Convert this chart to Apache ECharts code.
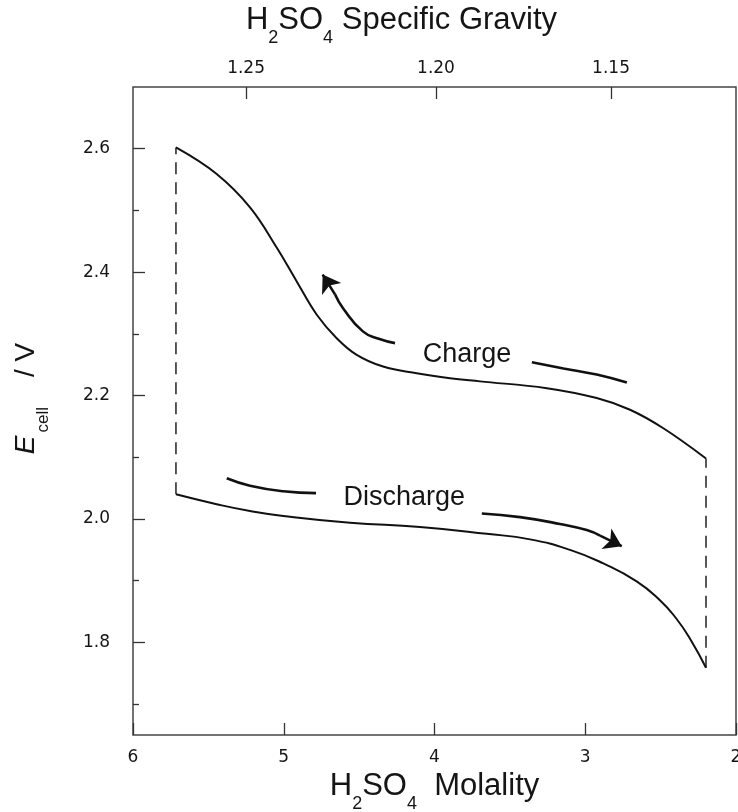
<!DOCTYPE html>
<html>
<head>
<meta charset="utf-8">
<script src="https://cdn.jsdelivr.net/npm/echarts@6/dist/echarts.min.js"></script>
<style>
html,body{margin:0;padding:0;background:#fff;}
#chart{width:738px;height:812px;}
</style>
</head>
<body>
<div id="chart"></div>
<script>
// ---- Data ----
const chargeMolality = [5.715, 5.445, 5.224, 5.047, 4.914, 4.781, 4.649, 4.516, 4.341, 4.118, 3.897, 3.698, 3.255, 2.924, 2.703, 2.482, 2.199];
const chargeEcell    = [2.602, 2.559, 2.505, 2.440, 2.385, 2.331, 2.293, 2.266, 2.247, 2.236, 2.228, 2.223, 2.212, 2.196, 2.177, 2.147, 2.098];

const dischargeMolality = [5.715, 5.445, 5.224, 5.003, 4.560, 4.096, 3.654, 3.366, 3.101, 2.880, 2.659, 2.503, 2.400, 2.305, 2.199];
const dischargeEcell    = [2.040, 2.024, 2.013, 2.005, 1.994, 1.987, 1.976, 1.967, 1.950, 1.928, 1.899, 1.868, 1.840, 1.806, 1.759];

// vertical dashed transitions
const leftJumpMolality = [5.715, 5.715];
const leftJumpEcell    = [2.040, 2.602];
const rightJumpMolality = [2.199, 2.199];
const rightJumpEcell    = [1.759, 2.098];

// annotation strokes (arrow bodies end where the head segment starts)
const chargeArrowMol = [4.262, 4.370, 4.475, 4.608, 4.660];
const chargeArrowE   = [2.285, 2.292, 2.304, 2.342, 2.364];
const chargeArrowTip = [4.742, 2.396];
const chargeTailMol  = [3.354, 3.144, 2.924, 2.724];
const chargeTailE    = [2.254, 2.244, 2.234, 2.221];
const dischargeTailMol  = [5.378, 5.224, 5.003, 4.786];
const dischargeTailE    = [2.066, 2.054, 2.045, 2.042];
const dischargeArrowMol = [3.686, 3.433, 3.168, 2.990, 2.902];
const dischargeArrowE   = [2.009, 2.003, 1.992, 1.982, 1.973];
const dischargeArrowTip = [2.758, 1.956];

const annotationLabels = ['Charge', 'Discharge'];
const annotationMol    = [3.785, 4.200];
const annotationE      = [2.266, 2.035];

// axes
const yMajorTicks = [1.8, 2.0, 2.2, 2.4, 2.6];
const yMinorTicks = [1.7, 1.9, 2.1, 2.3, 2.5];
const sgTickLabels   = ['1.25', '1.20', '1.15'];
const sgTickMolality = [5.25, 3.99, 2.829];

// ---- Build ----
const zip = (a, b) => a.map((v, i) => [v, b[i]]);
const last = (a, b) => [a[a.length - 1], b[b.length - 1]];
const ink = '#151515';
const fontFam = '"Liberation Sans", Arial, Helvetica, sans-serif';
const tickFam = '"DejaVu Sans", "Liberation Sans", sans-serif';

const subRich = {
  m: {fontSize: 31, lineHeight: 54, verticalAlign: 'middle', color: ink, fontFamily: fontFam},
  s: {fontSize: 18, lineHeight: 20, verticalAlign: 'bottom', color: ink, fontFamily: fontFam},
  it: {fontSize: 28, lineHeight: 52, fontStyle: 'italic', verticalAlign: 'middle', color: ink, fontFamily: fontFam},
  ys: {fontSize: 17, lineHeight: 16, verticalAlign: 'bottom', color: ink, fontFamily: fontFam, padding: [0, 30, 0, 3]},
  ym: {fontSize: 28, lineHeight: 52, verticalAlign: 'middle', color: ink, fontFamily: fontFam}
};

const chart = echarts.init(document.getElementById('chart'), null, {renderer: 'canvas'});

const tickStyle = {color: '#333', width: 1.3};
const labelFont = {fontSize: 17, color: ink, fontFamily: tickFam};

const option = {
  animation: false,
  backgroundColor: '#fff',
  grid: {left: 133, right: 2, top: 87, bottom: 77, show: true, borderColor: '#444', borderWidth: 1.5,
         backgroundColor: 'transparent', outerBoundsMode: 'none', containLabel: false},
  xAxis: [
    {
      type: 'value', position: 'bottom', inverse: true, min: 2, max: 6, interval: 1,
      name: '{m|H}{s|2}{m|SO}{s|4}{m|  Molality}',
      nameLocation: 'middle', nameGap: 22,
      nameTextStyle: {rich: subRich},
      axisLine: {show: false},
      axisTick: {show: true, inside: true, length: 12, lineStyle: tickStyle},
      axisLabel: Object.assign({margin: 14}, labelFont),
      splitLine: {show: false}
    },
    {
      type: 'value', position: 'top', inverse: true, min: 2, max: 6,
      name: '{m|H}{s|2}{m|SO}{s|4}{m| Specific Gravity}',
      nameLocation: 'middle', nameGap: 40,
      nameTextStyle: {rich: subRich, padding: [0, 66, 0, 0]},
      axisLine: {show: false},
      axisTick: {show: true, inside: true, length: 12, customValues: sgTickMolality, lineStyle: tickStyle},
      axisLabel: Object.assign({
        margin: 10,
        customValues: sgTickMolality,
        formatter: v => {
          const i = sgTickMolality.findIndex(t => Math.abs(t - v) < 1e-6);
          return i >= 0 ? sgTickLabels[i] : '';
        }
      }, labelFont),
      splitLine: {show: false}
    }
  ],
  yAxis: [
    {
      type: 'value', min: 1.65, max: 2.7, position: 'left',
      name: '{it|E}{ys|cell}{ym|/ V}',
      nameLocation: 'middle', nameRotate: 90, nameGap: 81,
      nameTextStyle: {rich: subRich, padding: [0, 0, 0, 25]},
      axisLine: {show: false},
      axisTick: {show: true, inside: true, length: 12, customValues: yMajorTicks, lineStyle: tickStyle},
      axisLabel: Object.assign({
        margin: 23,
        customValues: yMajorTicks,
        formatter: v => v.toFixed(1)
      }, labelFont),
      splitLine: {show: false}
    },
    {
      type: 'value', min: 1.65, max: 2.7, position: 'left',
      axisLine: {show: false},
      axisTick: {show: true, inside: true, length: 6, customValues: yMinorTicks, lineStyle: tickStyle},
      axisLabel: {show: false},
      splitLine: {show: false}
    }
  ],
  series: [
    {
      name: 'Charge', type: 'line', smooth: 0.4, symbol: 'none',
      data: zip(chargeMolality, chargeEcell),
      lineStyle: {color: '#111', width: 2}
    },
    {
      name: 'Discharge', type: 'line', smooth: 0.5, symbol: 'none',
      data: zip(dischargeMolality, dischargeEcell),
      lineStyle: {color: '#111', width: 2}
    },
    {
      type: 'line', symbol: 'none', data: zip(leftJumpMolality, leftJumpEcell),
      lineStyle: {color: '#111', width: 1.4, type: [12, 8]}
    },
    {
      type: 'line', symbol: 'none', data: zip(rightJumpMolality, rightJumpEcell),
      lineStyle: {color: '#111', width: 1.4, type: [12, 8]}
    },
    // annotation stroke bodies
    {type: 'line', symbol: 'none', smooth: 0.5, data: zip(chargeArrowMol, chargeArrowE), lineStyle: {color: '#111', width: 2.6}},
    {type: 'line', symbol: 'none', smooth: 0.5, data: zip(chargeTailMol, chargeTailE), lineStyle: {color: '#111', width: 2.6}},
    {type: 'line', symbol: 'none', smooth: 0.5, data: zip(dischargeTailMol, dischargeTailE), lineStyle: {color: '#111', width: 2.6}},
    {type: 'line', symbol: 'none', smooth: 0.5, data: zip(dischargeArrowMol, dischargeArrowE), lineStyle: {color: '#111', width: 2.6}},
    // arrow heads
    {
      type: 'lines', coordinateSystem: 'cartesian2d',
      symbol: ['none', 'arrow'], symbolSize: 17,
      lineStyle: {color: '#111', width: 2.6, opacity: 1, curveness: 0},
      data: [
        {coords: [last(chargeArrowMol, chargeArrowE), chargeArrowTip]},
        {coords: [last(dischargeArrowMol, dischargeArrowE), dischargeArrowTip]}
      ]
    },
    {
      type: 'scatter', symbolSize: 0, itemStyle: {opacity: 1},
      data: annotationLabels.map((t, i) => ({value: [annotationMol[i], annotationE[i]], name: t})),
      label: {show: true, position: 'inside', formatter: p => p.name, fontSize: 27, color: ink, fontFamily: fontFam, opacity: 1}
    }
  ]
};
chart.setOption(option);
</script>
</body>
</html>
